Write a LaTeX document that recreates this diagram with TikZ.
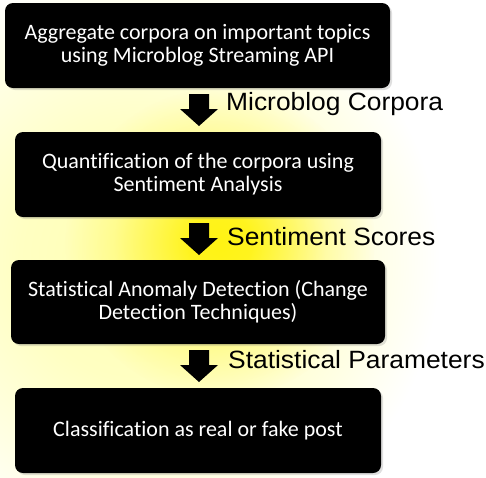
\documentclass[tikz,border=0pt]{standalone}
\usepackage{fontspec}
\setmainfont[Ligatures={NoCommon}]{Carlito}
\newfontfamily\labelfont{Liberation Sans}
\usetikzlibrary{shadows,fadings}
% broad pale glow (path edge = 25bp, path radius 500)
\pgfdeclareradialshading{broadglow}{\pgfpoint{0bp}{0bp}}{%
  color(0bp)=(yellow!30!white);
  color(6bp)=(yellow!24!white);
  color(11.2bp)=(yellow!11!white);
  color(15bp)=(white);
  color(50bp)=(white)}
% core fading (white = opaque)
\pgfdeclareradialshading{coreshade}{\pgfpoint{0bp}{0bp}}{%
  color(0bp)=(white);
  color(5bp)=(white!94!black);
  color(10bp)=(white!65!black);
  color(17bp)=(white!25!black);
  color(25bp)=(black);
  color(50bp)=(black)}
\pgfdeclarefading{corefade}{\pgfuseshading{coreshade}}
\tikzset{
  stepbox/.style={fill=black, rounded corners=8pt, text=white,
    font=\fontsize{22}{23}\selectfont, align=center, inner sep=0pt,
    drop shadow={opacity=0.25, shadow xshift=2pt, shadow yshift=-2pt}},
  flowlabel/.style={anchor=base west, inner sep=0pt, xscale=1.055,
    font=\labelfont\fontsize{25}{28}\selectfont, text=black},
  blockarrow/.style={fill=black}
}
\begin{document}
\begin{tikzpicture}[x=1pt, y=-1pt]
\useasboundingbox (0,0) rectangle (486,477);
\begin{scope}
\clip (0,0) rectangle (486,477);
\fill[white] (0,0) rectangle (486,477);
\fill[shading=broadglow] (140,260) circle (500);
\fill[yellow!92!white, path fading=corefade] (220,243) circle (155);
\end{scope}

\node[stepbox, minimum width=385pt, minimum height=85pt] (b1) at (197.5,45.5)
  {Aggregate corpora on important topics\\using Microblog Streaming API};
\node[stepbox, minimum width=366pt, minimum height=85pt] (b2) at (198,174.5)
  {Quantification of the corpora using\\Sentiment Analysis};
\node[stepbox, minimum width=374pt, minimum height=84pt] (b3) at (198,302)
  {Statistical Anomaly Detection (Change\\Detection Techniques)};
\node[stepbox, minimum width=366pt, minimum height=85pt] (b4) at (198,430.5)
  {Classification as real or fake post};

\foreach \n/\y in {a1/94, a2/223, a3/350}{
  \coordinate (\n) at (199,\y);
  \fill[blockarrow] (\n) ++(-10,0) -- ++(20,0) -- ++(0,15) -- ++(9,0)
    -- ++(-19,17) -- ++(-19,-17) -- ++(9,0) -- cycle;
}

\node[flowlabel] (l1) at (226,110) {Microblog Corpora};
\node[flowlabel] (l2) at (227,245) {Sentiment Scores};
\node[flowlabel] (l3) at (228,368) {Statistical Parameters};
\end{tikzpicture}
\end{document}
